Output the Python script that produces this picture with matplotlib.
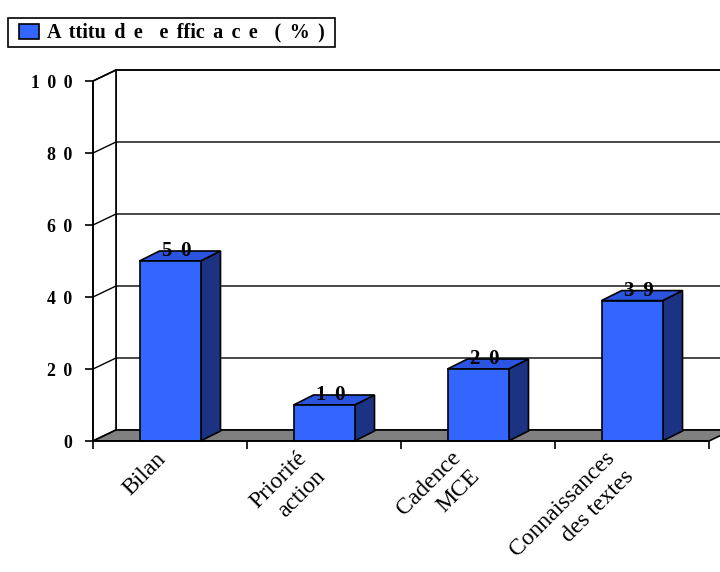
import numpy as np
import matplotlib
matplotlib.use("Agg")
import matplotlib.pyplot as plt
import matplotlib.transforms as mtransforms
from matplotlib.patches import Polygon, Rectangle

categories = ["Bilan", "Priorité\naction", "Cadence\nMCE", "Connaissances\ndes textes"]
values = [50, 10, 20, 39]
yticks = [0, 20, 40, 60, 80, 100]
legend_label = "A ttitu d e  e ffic a c e  ( % )"

# old Excel charts track the letters out, mimic it with wider spaces
SP = " \u2006"


def spaced(s):
    return s.replace(" ", SP)


value_labels = [spaced(" ".join(str(v))) for v in values]
ytick_labels = [spaced(" ".join(str(v))) for v in yticks]

serif = ["Liberation Serif", "DejaVu Serif"]
front_col = "#3366FF"
top_col = "#2B55E0"
side_col = "#1B3382"
floor_col = "#808080"

W, H = 720, 572
fig = plt.figure(figsize=(W / 100, H / 100), dpi=100)
# front plane of the 3d box
ax = fig.add_axes([93 / W, 1 - 441 / H, 616 / W, 360 / H])
n = len(categories)
ax.set_xlim(0, n)
ax.set_ylim(0, 100)

# depth offsets (data units)
dx, dy = 23 / 154, 11 / 3.6
bdx, bdy = 20 / 154, 10 / 3.6
bw = 61 / 154

kw = dict(clip_on=False)
# back wall
ax.add_patch(Rectangle((dx, dy), n, 100, facecolor="white", edgecolor="black", lw=1.2, **kw))
# left wall
ax.add_patch(Polygon([(0, 0), (dx, dy), (dx, 100 + dy), (0, 100)], closed=True,
                     facecolor="white", edgecolor="black", lw=1.2, **kw))
# gridlines
for v in yticks[1:]:
    ax.plot([0, dx, n + dx], [v, v + dy, v + dy], color="black", lw=1.0, **kw)
# floor
ax.add_patch(Polygon([(0, 0), (n, 0), (n + dx, dy), (dx, dy)], closed=True,
                     facecolor=floor_col, edgecolor="black", lw=1.2, **kw))

# bars
for i, v in enumerate(values):
    x0 = i + 0.5 - bw / 2
    x1 = i + 0.5 + bw / 2
    ax.add_patch(Polygon([(x1, 0), (x1 + bdx, bdy), (x1 + bdx, v + bdy), (x1, v)], closed=True,
                         facecolor=side_col, edgecolor="black", lw=1.2, zorder=3, **kw))
    ax.add_patch(Polygon([(x0, v), (x1, v), (x1 + bdx, v + bdy), (x0 + bdx, v + bdy)], closed=True,
                         facecolor=top_col, edgecolor="black", lw=1.2, zorder=3, **kw))
    ax.add_patch(Rectangle((x0, 0), bw, v, facecolor=front_col, edgecolor="black",
                           lw=1.2, zorder=3, **kw))
    ax.text(i + 0.5 + bdx * 0.35, v + bdy, value_labels[i], ha="center", va="center",
            fontsize=15, fontweight="bold", family=serif, zorder=4)

# axes styling
for s in ["top", "right"]:
    ax.spines[s].set_visible(False)
ax.patch.set_visible(False)
ax.spines["left"].set_linewidth(1.2)
ax.spines["bottom"].set_linewidth(1.2)
ax.spines["bottom"].set_zorder(5)
ax.set_yticks(yticks)
ax.set_yticklabels(ytick_labels, fontsize=12.8, fontweight="bold", family=serif)
ax.tick_params(axis="y", direction="out", length=6, width=1.2, pad=9)
ax.set_xticks(np.arange(n + 1))
ax.set_xticklabels([])
ax.tick_params(axis="x", which="major", direction="out", length=6, width=1.2)

# category labels, rotated, hung just under the floor
for i, c in enumerate(categories):
    extra = c.count("\n")
    lab_tr = mtransforms.offset_copy(ax.transData, fig=fig, x=-7 - 4 * extra,
                                     y=-15 - 8 * extra, units="dots")
    ax.text(i + 0.5, 0, c, transform=lab_tr, rotation=45, ha="right", va="center",
            rotation_mode="anchor", multialignment="right", linespacing=1.3,
            fontsize=17, family=serif, clip_on=False)

# legend box drawn by hand (Excel style, wide left padding)
fig.patches.append(Rectangle((8 / W, 1 - 47 / H), 327 / W, 29 / H, transform=fig.transFigure,
                             facecolor="white", edgecolor="black", lw=1.2))
fig.patches.append(Rectangle((19 / W, 1 - 39 / H), 20 / W, 15 / H, transform=fig.transFigure,
                             facecolor=front_col, edgecolor="black", lw=1.2))
fig.text(47 / W, 1 - 32 / H, spaced(legend_label), ha="left", va="center",
         fontsize=14.5, fontweight="bold", family=serif)

fig.savefig("out.png", dpi=100)
